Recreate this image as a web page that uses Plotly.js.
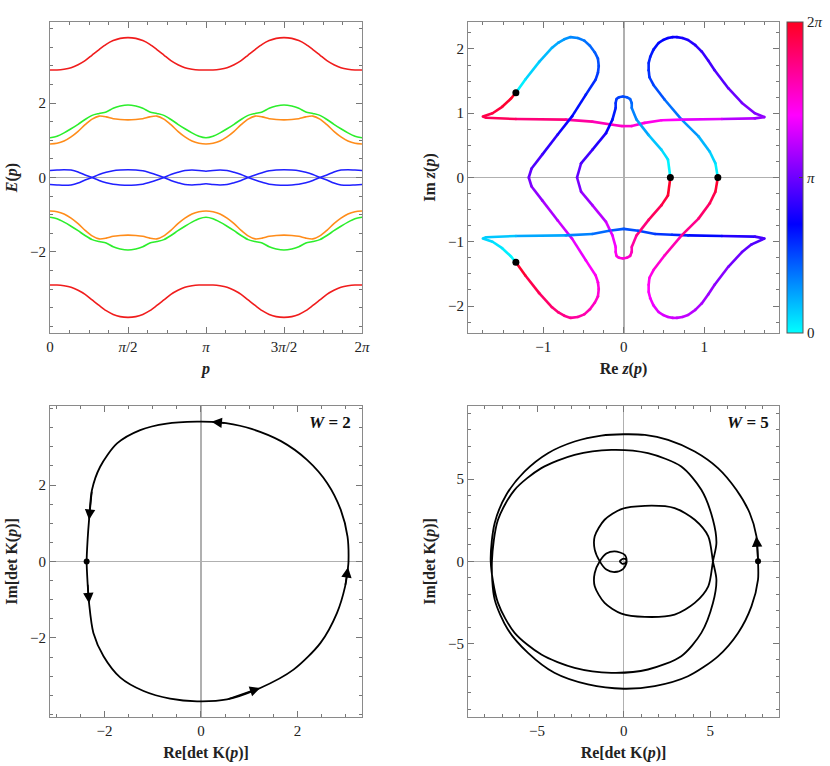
<!DOCTYPE html>
<html><head><meta charset="utf-8">
<script src="https://cdn.plot.ly/plotly-3.0.1.min.js"></script>
<style>html,body{margin:0;padding:0;background:#fff}#chart{width:830px;height:766px}</style>
</head><body><div id="chart"></div>
<script>
// ---------- Panel 1: band structure E(p), p in units of pi ----------
const pGrid = [0,0.045,0.09,0.135,0.18,0.225,0.27,0.315,0.36,0.405,0.45,0.5,0.55,0.595,0.64,0.685,0.73,0.775,0.82,0.865,0.91,0.955,1.0,
  1.045,1.09,1.135,1.18,1.225,1.27,1.315,1.36,1.405,1.45,1.5,1.55,1.595,1.64,1.685,1.73,1.775,1.82,1.865,1.91,1.955,2.0];
const redUp = [2.89,2.89,2.91,2.95,3.03,3.14,3.29,3.44,3.58,3.68,3.74,3.76,3.74,3.68,3.58,3.44,3.29,3.14,3.03,2.95,2.91,2.89,2.89,
  2.89,2.91,2.95,3.03,3.14,3.29,3.44,3.58,3.68,3.74,3.76,3.74,3.68,3.58,3.44,3.29,3.14,3.03,2.95,2.91,2.89,2.89];
const redDn = [-2.89,-2.89,-2.91,-2.95,-3.03,-3.14,-3.29,-3.44,-3.58,-3.68,-3.74,-3.76,-3.74,-3.68,-3.58,-3.44,-3.29,-3.14,-3.03,-2.95,-2.91,-2.89,-2.89,
  -2.89,-2.91,-2.95,-3.03,-3.14,-3.29,-3.44,-3.58,-3.68,-3.74,-3.76,-3.74,-3.68,-3.58,-3.44,-3.29,-3.14,-3.03,-2.95,-2.91,-2.89,-2.89];
const greenUp = [1.07,1.11,1.20,1.31,1.43,1.56,1.67,1.72,1.76,1.86,1.92,1.95,1.92,1.86,1.76,1.72,1.67,1.56,1.43,1.31,1.20,1.11,1.07,
  1.11,1.20,1.31,1.43,1.56,1.67,1.72,1.76,1.86,1.92,1.95,1.92,1.86,1.76,1.72,1.67,1.56,1.43,1.31,1.20,1.11,1.07];
const greenDn = [-1.07,-1.11,-1.20,-1.31,-1.43,-1.56,-1.67,-1.72,-1.76,-1.86,-1.92,-1.95,-1.92,-1.86,-1.76,-1.72,-1.67,-1.56,-1.43,-1.31,-1.20,-1.11,-1.07,
  -1.11,-1.20,-1.31,-1.43,-1.56,-1.67,-1.72,-1.76,-1.86,-1.92,-1.95,-1.92,-1.86,-1.76,-1.72,-1.67,-1.56,-1.43,-1.31,-1.20,-1.11,-1.07];
const orangeUp = [0.90,0.92,0.98,1.09,1.24,1.42,1.57,1.65,1.63,1.58,1.56,1.55,1.56,1.58,1.63,1.65,1.57,1.42,1.24,1.09,0.98,0.92,0.90,
  0.92,0.98,1.09,1.24,1.42,1.57,1.65,1.63,1.58,1.56,1.55,1.56,1.58,1.63,1.65,1.57,1.42,1.24,1.09,0.98,0.92,0.90];
const orangeDn = [-0.90,-0.92,-0.98,-1.09,-1.24,-1.42,-1.57,-1.65,-1.63,-1.58,-1.56,-1.55,-1.56,-1.58,-1.63,-1.65,-1.57,-1.42,-1.24,-1.09,-0.98,-0.92,-0.90,
  -0.92,-0.98,-1.09,-1.24,-1.42,-1.57,-1.65,-1.63,-1.58,-1.56,-1.55,-1.56,-1.58,-1.63,-1.65,-1.57,-1.42,-1.24,-1.09,-0.98,-0.92,-0.90];
const blueA = [0.19,0.20,0.21,0.20,0.15,0.07,0.0,-0.08,-0.14,-0.18,-0.20,-0.21,-0.20,-0.18,-0.13,-0.07,0.0,0.08,0.14,0.19,0.20,0.19,0.17,
  0.19,0.20,0.19,0.14,0.08,0.0,-0.07,-0.13,-0.18,-0.20,-0.21,-0.20,-0.18,-0.14,-0.08,0.0,0.07,0.15,0.20,0.21,0.20,0.19];
const blueB = [-0.19,-0.20,-0.21,-0.20,-0.15,-0.07,0.0,0.08,0.14,0.18,0.20,0.21,0.20,0.18,0.13,0.07,0.0,-0.08,-0.14,-0.19,-0.20,-0.19,-0.17,
  -0.19,-0.20,-0.19,-0.14,-0.08,0.0,0.07,0.13,0.18,0.20,0.21,0.20,0.18,0.14,0.08,0.0,-0.07,-0.15,-0.20,-0.21,-0.20,-0.19];
const pTickVals = [0,0.5,1,1.5,2];
const pTickText = ['0','<i>π</i>/2','<i>π</i>','3<i>π</i>/2','2<i>π</i>'];

// ---------- Panel 2: roots z(p); t = p / 2π ----------
const reA = [1.17,1.14,1.07,0.93,0.72,0.51,0.37,0.32,0.31,0.31,0.33,0.37,0.43,0.49,0.55,0.61,0.66,0.73,0.80,0.89,0.97,1.05,1.13,1.30,1.47,1.63,1.75,1.63,1.22,0.72,0.47,0.26,0.10,-0.02,-0.14,-0.39,-0.72,-1.34,-1.71,-1.75,-1.63,-1.51,-1.40,-1.34];
const imA = [0,0.22,0.40,0.64,0.90,1.21,1.44,1.56,1.67,1.78,1.88,1.99,2.09,2.14,2.17,2.185,2.185,2.17,2.14,2.06,1.96,1.82,1.67,1.39,1.16,1.00,0.94,0.92,0.91,0.90,0.89,0.85,0.80,0.80,0.82,0.87,0.90,0.91,0.93,0.95,1.00,1.10,1.23,1.32];
const tA  = [0,0.04,0.08,0.12,0.17,0.22,0.26,0.275,0.29,0.30,0.31,0.325,0.34,0.35,0.36,0.365,0.37,0.38,0.39,0.405,0.42,0.435,0.45,0.48,0.51,0.53,0.55,0.57,0.63,0.69,0.72,0.74,0.76,0.77,0.78,0.81,0.85,0.91,0.935,0.94,0.955,0.97,0.99,1];
const reB = [-1.34,-1.22,-1.05,-0.89,-0.81,-0.74,-0.66,-0.57,-0.49,-0.42,-0.36,-0.32,-0.31,-0.32,-0.35,-0.47,-0.64,-0.82,-1.01,-1.145,-1.18,
  -1.145,-1.01,-0.82,-0.64,-0.47,-0.35,-0.32,-0.31,-0.32,-0.36,-0.42,-0.49,-0.57,-0.66,-0.74,-0.81,-0.89,-1.05,-1.22,-1.34];
const imB = [1.32,1.53,1.80,2.02,2.10,2.15,2.185,2.17,2.13,2.05,1.95,1.85,1.735,1.63,1.52,1.29,0.955,0.67,0.36,0.14,0,
  -0.14,-0.36,-0.67,-0.955,-1.29,-1.52,-1.63,-1.735,-1.85,-1.95,-2.05,-2.13,-2.17,-2.185,-2.15,-2.10,-2.02,-1.80,-1.53,-1.32];
const tB  = [0,0.04,0.08,0.11,0.125,0.14,0.16,0.175,0.19,0.205,0.22,0.235,0.25,0.265,0.28,0.31,0.35,0.39,0.44,0.47,0.5,
  0.53,0.56,0.61,0.65,0.69,0.72,0.735,0.75,0.765,0.78,0.795,0.81,0.825,0.84,0.86,0.875,0.89,0.92,0.96,1];
const reC = [-1.34,-1.40,-1.51,-1.63,-1.75,-1.71,-1.34,-0.72,-0.39,-0.18,0.0,0.18,0.39,0.60,0.80,1.22,1.63,1.75,1.59,1.47,1.30,1.13,1.05,0.97,0.89,0.80,0.73,0.66,0.61,0.55,0.49,0.43,0.37,0.33,0.31,0.31,0.32,0.37,0.51,0.72,0.93,1.07,1.14,1.17];
const imC = [-1.32,-1.23,-1.10,-1.00,-0.95,-0.93,-0.91,-0.90,-0.88,-0.83,-0.80,-0.83,-0.88,-0.89,-0.90,-0.91,-0.92,-0.95,-1.04,-1.16,-1.39,-1.67,-1.82,-1.96,-2.06,-2.14,-2.17,-2.185,-2.185,-2.17,-2.14,-2.09,-1.99,-1.88,-1.78,-1.67,-1.56,-1.44,-1.21,-0.90,-0.64,-0.40,-0.22,0];
const tC  = [0,0.01,0.03,0.045,0.06,0.065,0.09,0.15,0.19,0.22,0.23,0.25,0.27,0.29,0.31,0.37,0.43,0.45,0.47,0.49,0.52,0.55,0.565,0.58,0.595,0.61,0.62,0.63,0.635,0.64,0.65,0.66,0.675,0.69,0.70,0.71,0.725,0.74,0.78,0.83,0.88,0.92,0.96,1];
const reD = [0.58,0.55,0.47,0.31,0.16,0.10,0.10,0.08,0.04,-0.01,-0.06,-0.09,-0.10,-0.10,-0.14,-0.22,-0.39,-0.53,-0.58,
  -0.53,-0.39,-0.22,-0.14,-0.10,-0.10,-0.09,-0.06,-0.01,0.04,0.08,0.10,0.10,0.16,0.31,0.47,0.55,0.58];
const imD = [0,0.28,0.43,0.66,0.90,1.08,1.16,1.22,1.25,1.26,1.25,1.22,1.16,1.08,0.90,0.69,0.43,0.22,0,
  -0.22,-0.43,-0.69,-0.90,-1.08,-1.16,-1.22,-1.25,-1.26,-1.25,-1.22,-1.16,-1.08,-0.90,-0.66,-0.43,-0.28,0];
const tD  = [0,0.03,0.06,0.10,0.15,0.19,0.205,0.22,0.235,0.25,0.26,0.27,0.285,0.30,0.33,0.37,0.42,0.46,0.5,
  0.54,0.58,0.63,0.67,0.70,0.715,0.73,0.74,0.75,0.765,0.78,0.795,0.81,0.85,0.90,0.94,0.97,1];
const cbTickVals = [0,0.5,1];
const cbTickText = ['0','<i>π</i>','2<i>π</i>'];

// ---------- Panel 3: det K(p), W = 2 ----------
const reW2 = [-2.37,-2.35,-2.32,-2.23,-2.02,-1.67,-1.19,-0.64,-0.08,0.54,1.23,1.92,2.48,2.82,2.99,3.05,3.06,3.04,2.90,2.62,2.20,1.66,1.05,0.52,0.22,-0.08,-0.71,-1.26,-1.74,-2.09,-2.26,-2.32,-2.35,-2.37];
const imW2 = [0,-0.57,-1.09,-1.87,-2.48,-3.04,-3.39,-3.59,-3.66,-3.61,-3.31,-2.83,-2.13,-1.35,-0.65,-0.15,0,0.65,1.35,2.05,2.66,3.15,3.47,3.62,3.655,3.66,3.61,3.44,3.09,2.48,1.87,1.09,0.57,0];
const arrowsW2 = [2,10,15,24,31];

// ---------- Panel 4: det K(p), W = 5 ----------
const reW5 = [7.75,7.66,7.27,6.50,5.44,4.10,2.56,1.22,0.0,-1.29,-2.83,-4.37,-5.71,-6.77,-7.44,-7.67,
  -7.25,-6.29,-4.75,-2.83,-0.71,1.40,3.32,4.48,5.15,5.35,5.15,
  4.88,4.10,2.94,1.22,-0.13,-1.10,-1.67,-1.67,-1.38,
  -1.0,-0.52,-0.04,0.17,0.12,-0.05,-0.22,-0.08,0.10,0.17,0.06,-0.52,-1.0,-1.38,
  -1.67,-1.67,-1.10,-0.13,1.22,2.94,4.10,4.88,5.15,
  5.35,5.15,4.48,3.32,1.40,-0.71,-2.83,-4.75,-6.29,-7.25,-7.6,
  -7.44,-6.68,-5.52,-4.0,-2.06,0.0,1.79,3.71,5.44,6.6,7.37,7.75,7.75];
const imW5 = [0,1.52,2.94,4.35,5.67,6.68,7.39,7.69,7.73,7.65,7.29,6.58,5.47,4.05,2.33,0,
  -2.53,-4.35,-5.67,-6.48,-6.78,-6.58,-5.77,-4.35,-2.53,-1.12,0,
  1.52,2.53,3.24,3.38,3.18,2.53,1.52,0.71,0,
  -0.5,-0.65,-0.47,-0.06,0.12,0.15,0.0,-0.15,-0.10,0.05,0.40,0.61,0.47,0,
  -0.71,-1.52,-2.53,-3.18,-3.38,-3.24,-2.53,-1.52,0,
  1.12,2.53,4.35,5.77,6.58,6.78,6.48,5.67,4.35,2.53,0,
  -2.33,-4.15,-5.57,-6.78,-7.49,-7.75,-7.59,-6.99,-5.78,-4.36,-2.74,-1.11,0];
const arrowsW5 = [1];

// ---------- styling ----------
const FONT = 'Liberation Serif, DejaVu Serif, serif';
const CSCALE = [[0,'#00ffff'],[0.35,'#0000ff'],[0.70,'#ff00ff'],[1,'#ff0020']];
function hex2rgb(h){return [parseInt(h.substr(1,2),16),parseInt(h.substr(3,2),16),parseInt(h.substr(5,2),16)];}
function colorAt(t){
  for(let i=0;i<CSCALE.length-1;i++){
    const a=CSCALE[i], b=CSCALE[i+1];
    if(t<=b[0]){
      const f=(t-a[0])/(b[0]-a[0]); const ca=hex2rgb(a[1]), cb=hex2rgb(b[1]);
      return 'rgb('+ca.map((v,k)=>Math.round(v+(cb[k]-v)*f)).join(',')+')';
    }
  }
  return CSCALE[CSCALE.length-1][1];
}

const traces = [];
function band(y,color){traces.push({type:'scatter',mode:'lines',x:pGrid,y:y,xaxis:'x',yaxis:'y',
  line:{color:color,width:1.6,shape:'spline',smoothing:0.8},hoverinfo:'skip',showlegend:false});}
band(blueA,'#2020ff'); band(blueB,'#2020ff');
band(orangeUp,'#ff8c1a'); band(orangeDn,'#ff8c1a');
band(greenUp,'#2cee2c'); band(greenDn,'#2cee2c');
band(redUp,'#f01c1c'); band(redDn,'#f01c1c');

const paths = [[reA,imA,tA],[reB,imB,tB],[reC,imC,tC],[reD,imD,tD]];
paths.forEach(([re,im,t])=>{
  for(let i=0;i<re.length-1;i++){
    traces.push({type:'scatter',mode:'lines',x:[re[i],re[i+1]],y:[im[i],im[i+1]],xaxis:'x2',yaxis:'y2',
      line:{color:colorAt((t[i]+t[i+1])/2),width:2.6},hoverinfo:'skip',showlegend:false});
  }
});
traces.push({type:'scatter',mode:'markers',xaxis:'x2',yaxis:'y2',hoverinfo:'skip',showlegend:false,
  x:[].concat(reA,reB,reC,reD), y:[].concat(imA,imB,imC,imD),
  marker:{size:2.6,color:[].concat(tA,tB,tC,tD),colorscale:CSCALE,cmin:0,cmax:1,line:{width:0},showscale:true,
    colorbar:{x:787/830,xanchor:'left',y:(1-333/766+1-22/766)/2,yanchor:'middle',len:311/766,lenmode:'fraction',
      thickness:16,thicknessmode:'pixels',xpad:0,ypad:0,outlinewidth:1,outlinecolor:'#555',
      tickmode:'array',tickvals:cbTickVals,ticktext:cbTickText,ticks:'inside',ticklen:4,tickcolor:'#444',
      tickfont:{family:FONT,size:15,color:'#222'}}}});
traces.push({type:'scatter',mode:'markers',xaxis:'x2',yaxis:'y2',hoverinfo:'skip',showlegend:false,
  x:[reA[0],reB[0],reC[0],reD[0]],y:[imA[0],imB[0],imC[0],imD[0]],marker:{size:7,color:'#000'}});

traces.push({type:'scatter',mode:'lines',x:reW2,y:imW2,xaxis:'x3',yaxis:'y3',
  line:{color:'#000',width:1.8,shape:'spline',smoothing:0.8},hoverinfo:'skip',showlegend:false});
traces.push({type:'scatter',mode:'markers',x:[reW2[0]],y:[imW2[0]],xaxis:'x3',yaxis:'y3',
  marker:{size:6,color:'#000'},hoverinfo:'skip',showlegend:false});
traces.push({type:'scatter',mode:'lines',x:reW5,y:imW5,xaxis:'x4',yaxis:'y4',
  line:{color:'#000',width:1.8,shape:'spline',smoothing:0.8},hoverinfo:'skip',showlegend:false});
traces.push({type:'scatter',mode:'markers',x:[reW5[0]],y:[imW5[0]],xaxis:'x4',yaxis:'y4',
  marker:{size:6,color:'#000'},hoverinfo:'skip',showlegend:false});

const annotations = [];
function arrows(re,im,idx,xa,ya){
  idx.forEach(k=>annotations.push({x:re[k],y:im[k],ax:re[k-1],ay:im[k-1],xref:xa,yref:ya,axref:xa,ayref:ya,
    text:'',showarrow:true,arrowhead:2,arrowsize:1.3,arrowwidth:1.6,arrowcolor:'#000',standoff:0,startstandoff:0}));
}
arrows(reW2,imW2,arrowsW2,'x3','y3');
arrows(reW5,imW5,arrowsW5,'x4','y4');
annotations.push({xref:'paper',yref:'paper',x:353/830,y:1-422/766,xanchor:'right',yanchor:'middle',showarrow:false,
  text:'<b><i>W</i> = 2</b>',font:{family:FONT,size:17,color:'#111'}});
annotations.push({xref:'paper',yref:'paper',x:771/830,y:1-422/766,xanchor:'right',yanchor:'middle',showarrow:false,
  text:'<b><i>W</i> = 5</b>',font:{family:FONT,size:17,color:'#111'}});

function axis(o){
  const base = {showline:true,mirror:'ticks',linecolor:'#8a8a8a',linewidth:1,ticks:'inside',ticklen:6,tickwidth:1,tickcolor:'#777',
    showgrid:false,zeroline:false,automargin:false,fixedrange:true,tickfont:{family:FONT,size:15,color:'#222'},
    zerolinecolor:'#b0b0b0',zerolinewidth:1.6};
  const r = Object.assign(base,o);
  r.minor = {ticks:'inside',ticklen:3,tickwidth:1,tickcolor:'#777',dtick:o.minorDtick,tick0:0,showgrid:false};
  delete r.minorDtick;
  r.title = {text:o.titleText,standoff:o.standoff||8,font:{family:FONT,size:16,color:'#222'}};
  delete r.titleText; delete r.standoff;
  return r;
}
const DX1=[50/830,362/830], DX2=[468/830,779/830], DYT=[1-333/766,1-22/766], DYB=[1-717/766,1-406/766];

const layout = {
  width:830,height:766,margin:{l:0,r:0,t:0,b:0},paper_bgcolor:'#fff',plot_bgcolor:'#fff',showlegend:false,hovermode:false,
  xaxis: axis({domain:DX1,anchor:'y',range:[0,2],tickmode:'array',tickvals:pTickVals,ticktext:pTickText,minorDtick:0.125,titleText:'<b><i>p</i></b>'}),
  yaxis: axis({domain:DYT,anchor:'x',range:[-4.18,4.18],tickmode:'array',tickvals:[-2,0,2],minorDtick:0.5,zeroline:true,titleText:'<b><i>E</i>(<i>p</i>)</b>'}),
  xaxis2: axis({domain:DX2,anchor:'y2',range:[-1.935,1.93],tickmode:'array',tickvals:[-1,0,1],minorDtick:0.25,zeroline:true,titleText:'<b>Re <i>z</i>(<i>p</i>)</b>'}),
  yaxis2: axis({domain:DYT,anchor:'x2',range:[-2.42,2.42],tickmode:'array',tickvals:[-2,-1,0,1,2],minorDtick:0.25,zeroline:true,titleText:'<b>Im <i>z</i>(<i>p</i>)</b>'}),
  xaxis3: axis({domain:DX1,anchor:'y3',range:[-3.13,3.34],tickmode:'array',tickvals:[-2,0,2],minorDtick:0.5,zeroline:true,titleText:'<b>Re[det K(<i>p</i>)]</b>'}),
  yaxis3: axis({domain:DYB,anchor:'x3',range:[-4.07,4.07],tickmode:'array',tickvals:[-2,0,2],minorDtick:0.5,zeroline:true,titleText:'<b>Im[det K(<i>p</i>)]</b>'}),
  xaxis4: axis({domain:DX2,anchor:'y4',range:[-8.98,8.96],tickmode:'array',tickvals:[-5,0,5],minorDtick:1,zeroline:true,titleText:'<b>Re[det K(<i>p</i>)]</b>'}),
  yaxis4: axis({domain:DYB,anchor:'x4',range:[-9.47,9.45],tickmode:'array',tickvals:[-5,0,5],minorDtick:1,zeroline:true,titleText:'<b>Im[det K(<i>p</i>)]</b>'}),
  annotations: annotations
};
Plotly.newPlot('chart',traces,layout,{staticPlot:true,displayModeBar:false});
</script></body></html>
